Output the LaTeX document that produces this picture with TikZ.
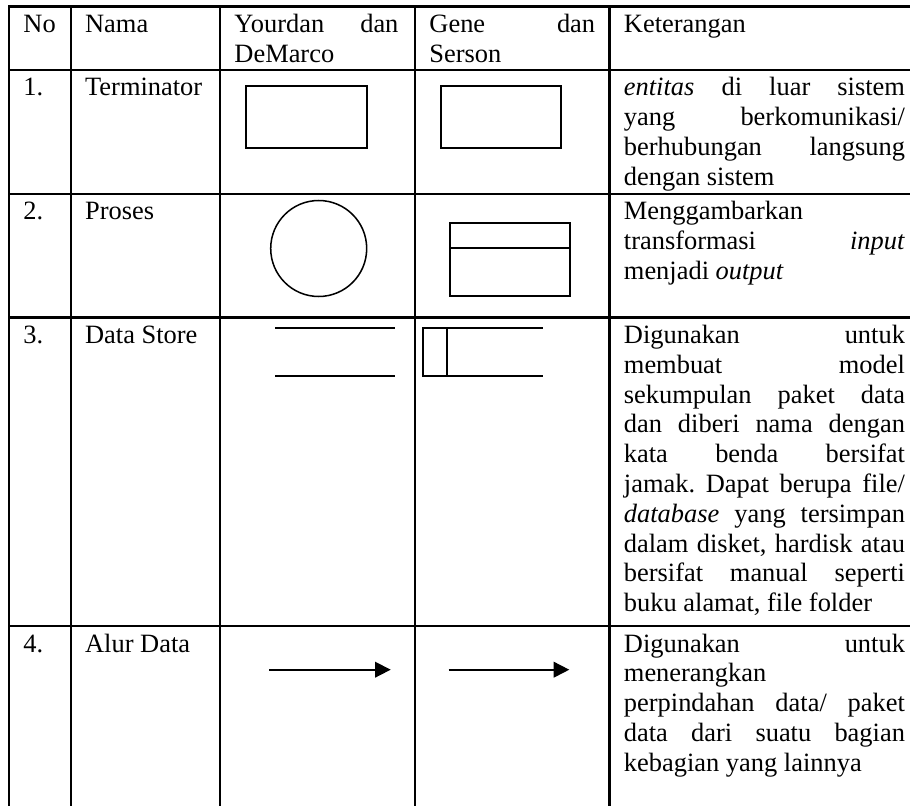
\documentclass[tikz,border=0pt]{standalone}
\usepackage{fontspec}
\setmainfont{Liberation Serif}
\usetikzlibrary{arrows.meta}
\newcommand\cellsetup{\frenchspacing\tolerance=10000\relax\hyphenpenalty=10000\relax}

\begin{document}
\begin{tikzpicture}[x=0.4615pt,y=-0.4615pt,
    grid/.style={line width=0.95pt},
    symb/.style={line width=0.8pt},
    flow/.style={line width=0.8pt,-{Triangle[length=7.2pt,width=7.2pt]}},
    txt/.style={anchor=base west,inner sep=0pt,
      font=\fontsize{12.2}{13.75}\selectfont\cellsetup},
    celltext/.style={txt,text width=#1,align=justify}]
      \useasboundingbox (0,0) rectangle (910,806);%

      % table lines
      \draw[grid] (9,812) -- (9,6.5) -- (914,6.5);%
      \foreach \y in {70,194,317.5,626} \draw[grid] (9,\y) -- (914,\y);%
      \foreach \x in {70.7,220,415,609.5} \draw[grid] (\x,6.5) -- (\x,812);%

      % header
      \node[txt] (H1) at (23,33) {No};%
      \node[txt] (H2) at (84.7,33) {Nama};%
      \node[celltext=75.7pt] (H3) at (234,33) {Yourdan dan\linebreak DeMarco};%
      \node[celltext=76.5pt] (H4) at (429,33) {Gene dan\linebreak Serson};%
      \node[txt] (H5) at (623.5,33) {Keterangan};%

      % row 1
      \node[txt] (R1) at (23,96) {1.};%
      \node[txt] (N1) at (84.7,96) {Terminator};%
      \node[celltext=129.7pt] (K1) at (623.5,96) {\textit{entitas} di luar sistem\linebreak
        yang berkomunikasi/\linebreak berhubungan langsung\linebreak dengan sistem};%
      \draw[symb] (246,85.7) rectangle (367.3,147.7);%
      \draw[symb] (440.7,85.7) rectangle (561.3,147.7);%

      % row 2
      \node[txt] (R2) at (23,220) {2.};%
      \node[txt] (N2) at (84.7,220) {Proses};%
      \node[celltext=129.7pt] (K2) at (623.5,220) {Menggambarkan\linebreak
        transformasi \textit{input}\linebreak menjadi \textit{output}};%
      \draw[line width=0.7pt] (318.7,248.5) circle (22.15pt);%
      \draw[symb] (450,223.3) rectangle (570,296) (450,247.7) -- (570,247.7);%

      % row 3
      \node[txt] (R3) at (23,343.5) {3.};%
      \node[txt] (N3) at (84.7,343.5) {Data Store};%
      \node[celltext=129.7pt] (K3) at (623.5,343.5) {Digunakan untuk\linebreak
        membuat model\linebreak sekumpulan paket data\linebreak
        dan diberi nama dengan\linebreak kata benda bersifat\linebreak
        jamak. Dapat berupa file/\linebreak \textit{database} yang tersimpan\linebreak
        dalam disket, hardisk atau\linebreak bersifat manual seperti\linebreak
        buku alamat, file folder};%
      \draw[symb] (275,328.3) -- (395,328.3) (275,376.3) -- (395,376.3);%
      \draw[symb] (542.7,328.3) -- (422.7,328.3) -- (422.7,376.3) -- (542.7,376.3)
        (446.7,328.3) -- (446.7,376.3);%

      % row 4
      \node[txt] (R4) at (23,652) {4.};%
      \node[txt] (N4) at (84.7,652) {Alur Data};%
      \node[celltext=129.7pt] (K4) at (623.5,652) {Digunakan untuk\linebreak
        menerangkan\linebreak perpindahan data/ paket\linebreak
        data dari suatu bagian\linebreak kebagian yang lainnya};%
      \coordinate (Y4s) at (269.3,669.7);%
      \coordinate (Y4e) at (390.7,669.7);%
      \coordinate (G4s) at (448.7,669.7);%
      \coordinate (G4e) at (569.3,669.7);%
      \draw[flow] (Y4s) -- (Y4e);%
      \draw[flow] (G4s) -- (G4e);%
    \end{tikzpicture}
\end{document}
